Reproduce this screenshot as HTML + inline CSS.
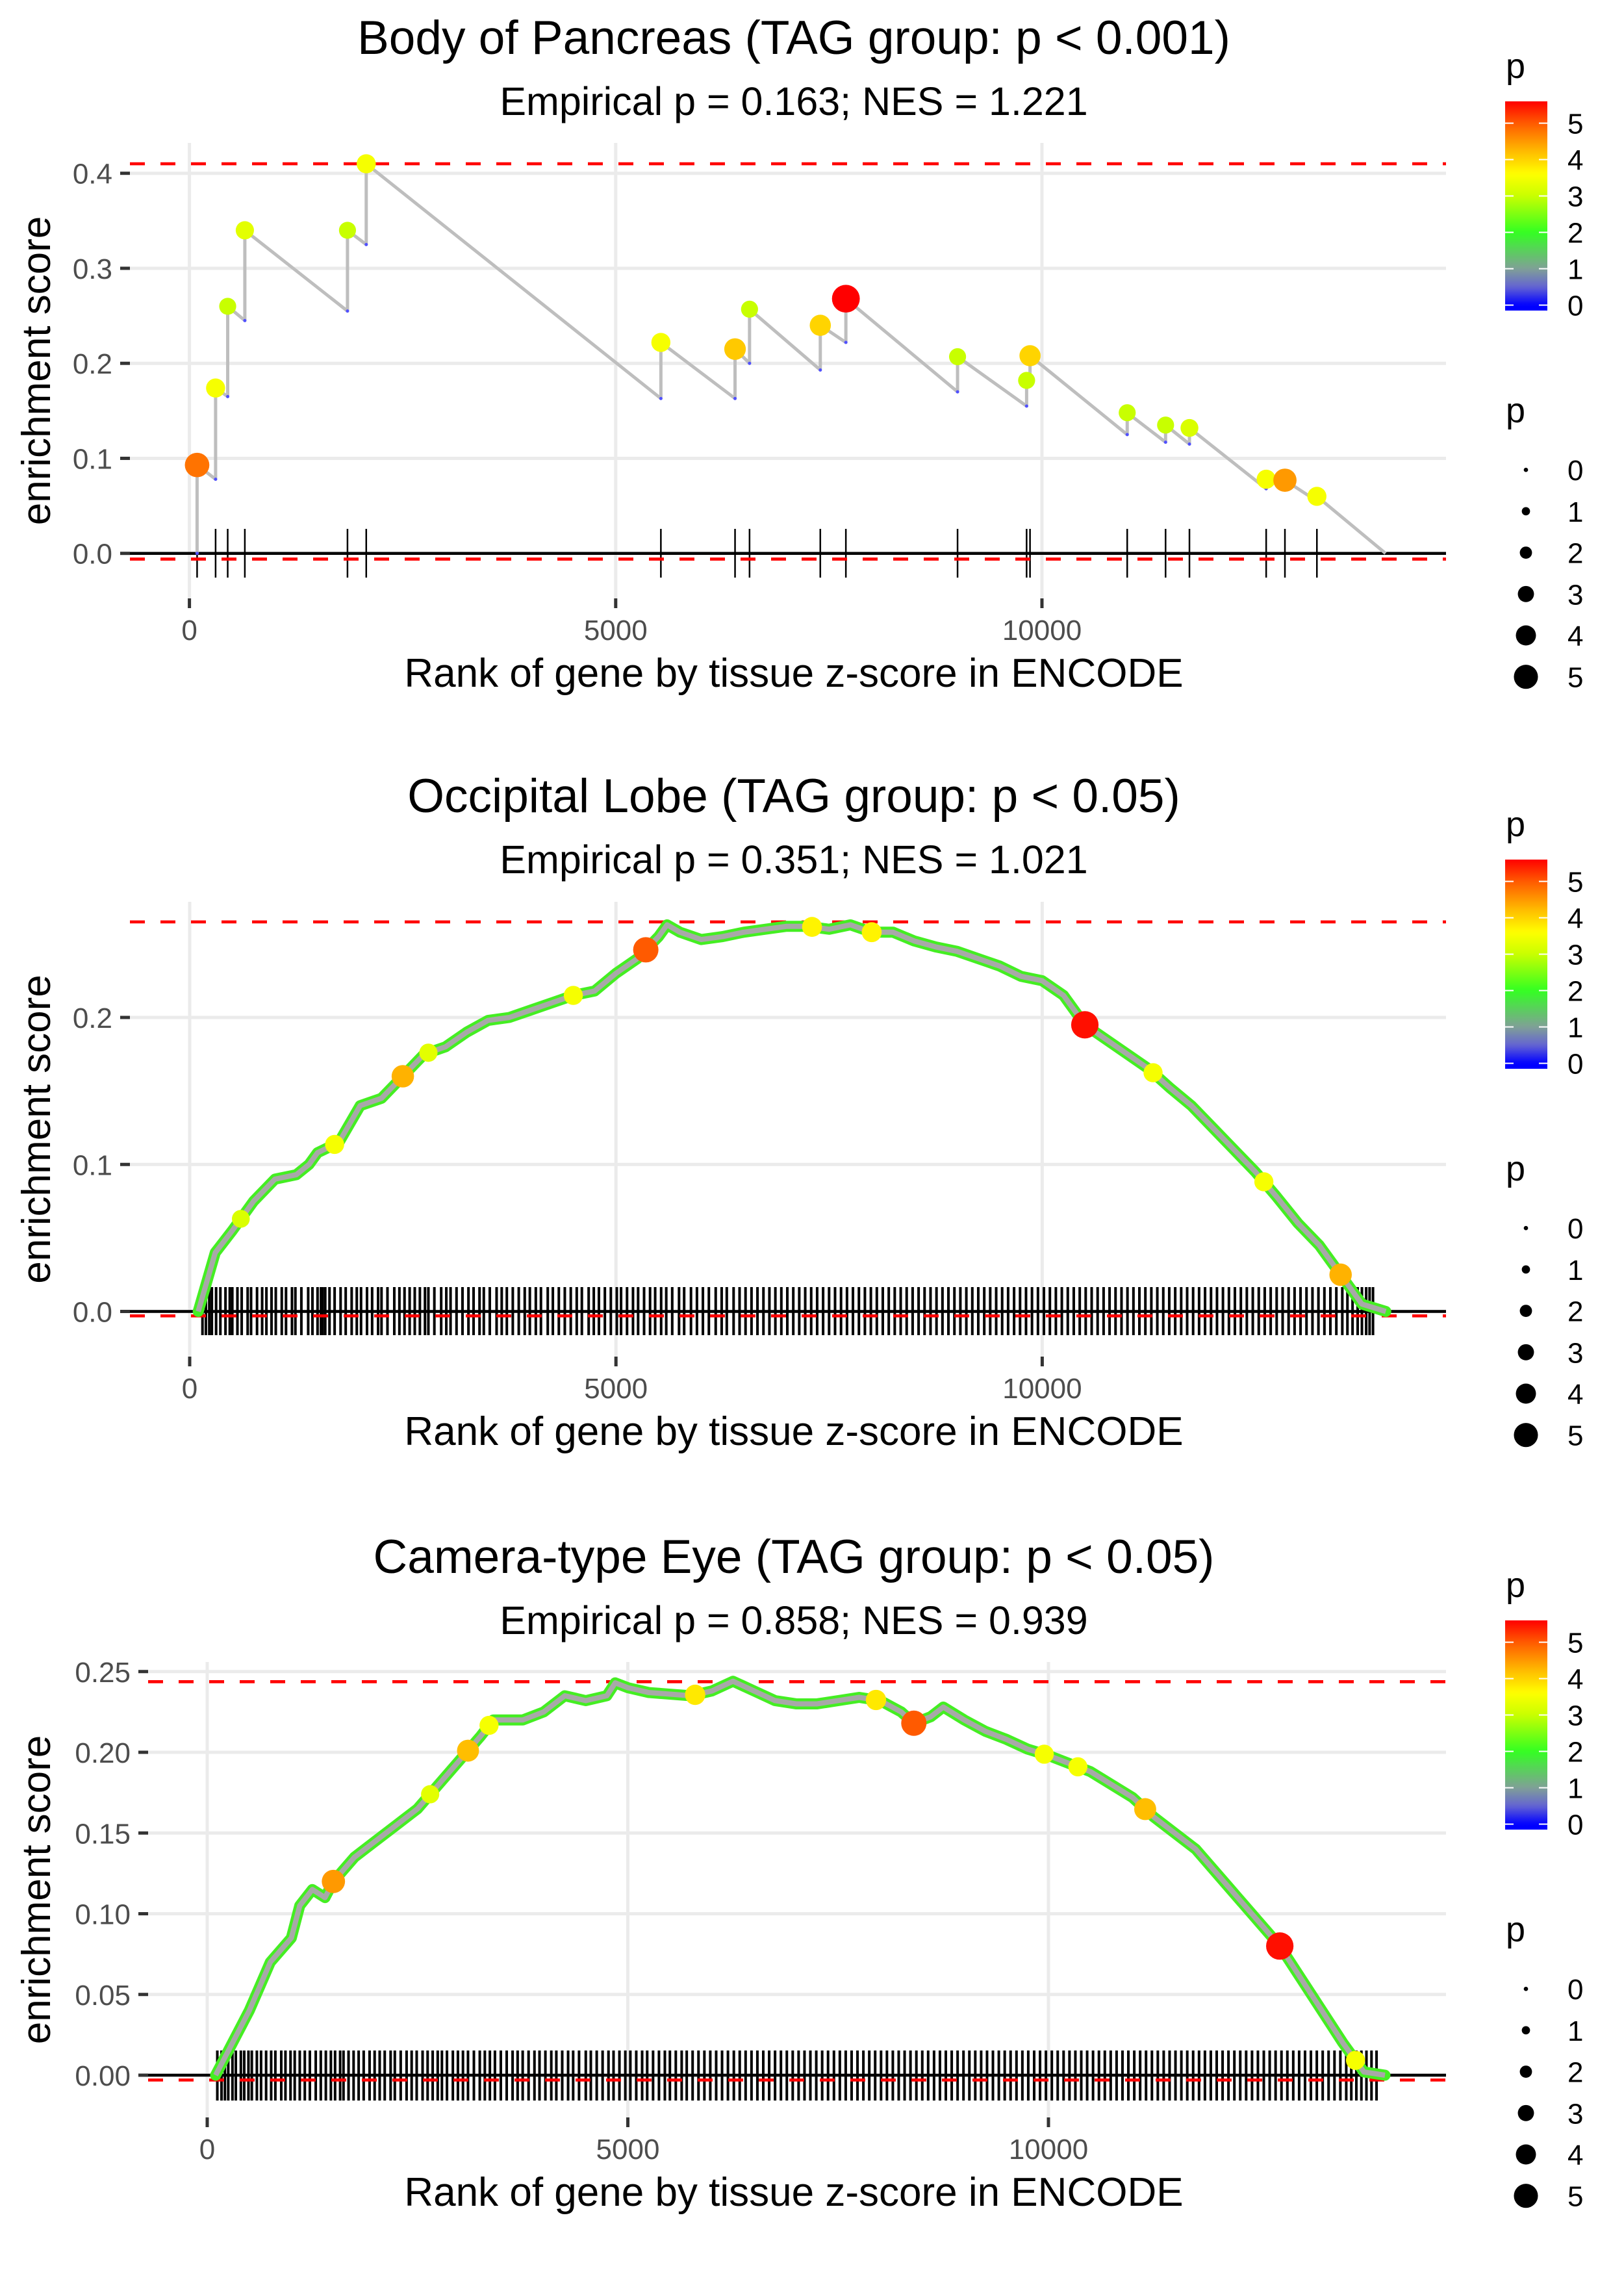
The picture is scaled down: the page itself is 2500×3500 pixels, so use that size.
<!DOCTYPE html>
<html><head><meta charset="utf-8"><style>
html,body{margin:0;padding:0;background:#fff}
svg{display:block}
text{font-family:"Liberation Sans",sans-serif}
</style></head><body>
<svg id="root" width="2500" height="3500" viewBox="0 0 2500 3500" xmlns="http://www.w3.org/2000/svg"></svg>
<script>
// ---------- Panel 1 data (Body of Pancreas) ----------
const p1HitRanks = [90,307,449,650,1854,2074,5530,6400,6570,7400,7700,9010,9820,9860,11000,11450,11730,12630,12850,13225];
const p1Trough   = [0,0.078,0.165,0.245,0.255,0.325,0.163,0.163,0.2,0.193,0.222,0.17,0.155,0.178,0.125,0.117,0.115,0.068,0.07,0.055];
const p1Peak     = [0.093,0.174,0.26,0.34,0.34,0.41,0.222,0.215,0.257,0.24,0.268,0.207,0.182,0.208,0.148,0.135,0.132,0.078,0.077,0.06];
const p1HitP     = [4.8,3.5,3.0,3.3,3.0,3.5,3.5,4.1,3.0,4.0,5.6,3.0,3.0,4.0,3.0,3.0,3.2,3.5,4.5,3.5];
const p1End = 14030;

// ---------- Panel 2 data (Occipital Lobe) ----------
const p2CurveRanks = [100,300,500,750,1000,1250,1400,1500,1750,2000,2250,2500,2750,3000,3250,3500,3750,4000,4250,4500,4750,5000,5250,5500,5600,5750,6000,6250,6500,6750,7000,7250,7500,7750,8000,8250,8500,8750,9000,9250,9500,9750,10000,10250,10500,10750,11000,11250,11500,11750,12000,12250,12500,12750,13000,13250,13500,13750,14030];
const p2CurveES = [0,0.04,0.055,0.075,0.09,0.093,0.1,0.108,0.115,0.14,0.145,0.16,0.175,0.18,0.19,0.198,0.2,0.205,0.21,0.215,0.218,0.23,0.24,0.255,0.263,0.258,0.253,0.255,0.258,0.26,0.262,0.262,0.26,0.263,0.258,0.258,0.252,0.248,0.245,0.24,0.235,0.228,0.225,0.215,0.195,0.185,0.175,0.165,0.152,0.14,0.125,0.11,0.095,0.078,0.06,0.045,0.025,0.005,0];
const p2DotRanks = [5350,10500,2500,13500,7300,8000,2800,4500,11300,12600,1700,600];
const p2DotP     = [5.0,5.5,4.3,4.3,3.7,3.7,3.3,3.5,3.5,3.5,3.5,3.2];
const p2HitRanks = [150,190,230,260,310,360,420,470,500,560,610,680,720,790,850,900,960,1010,1080,1130,1200,1240,1310,1390,1440,1500,1540,1560,1590,1640,1700,1770,1830,1900,1960,2010,2080,2140,2210,2250,2320,2400,2460,2520,2580,2640,2700,2760,2800,2870,2950,3010,3060,3130,3200,3270,3330,3400,3450,3520,3600,3660,3720,3790,3860,3930,3990,4060,4120,4200,4260,4330,4400,4470,4540,4600,4680,4740,4800,4870,4940,5010,5060,5130,5200,5260,5330,5400,5460,5530,5590,5660,5740,5800,5880,5950,6020,6090,6170,6240,6300,6380,6450,6520,6590,6660,6730,6800,6870,6940,7010,7080,7150,7220,7290,7360,7430,7500,7570,7640,7710,7780,7850,7920,7990,8060,8130,8200,8270,8340,8410,8480,8550,8620,8690,8760,8830,8900,8970,9040,9110,9180,9250,9320,9390,9460,9530,9600,9670,9740,9810,9880,9950,10020,10090,10160,10230,10300,10370,10440,10510,10580,10650,10720,10790,10860,10930,11000,11070,11140,11210,11280,11350,11420,11490,11560,11630,11700,11770,11840,11910,11980,12050,12120,12190,12260,12330,12400,12470,12540,12610,12680,12750,12820,12890,12960,13030,13100,13170,13240,13310,13380,13450,13520,13580,13640,13700,13750,13800,13840,13880];

// ---------- Panel 3 data (Camera-type Eye) ----------
const p3CurveRanks = [100,250,500,750,1000,1100,1250,1400,1500,1750,2000,2250,2500,2750,3000,3250,3400,3750,4000,4250,4500,4750,4850,5000,5250,5500,5750,6000,6250,6500,6750,7000,7250,7500,7750,8000,8250,8400,8600,8750,9000,9250,9500,9750,10000,10250,10500,10750,11000,11250,11500,11750,12000,12250,12500,12750,13000,13250,13500,13750,14000];
const p3CurveES = [0,0.015,0.04,0.07,0.085,0.105,0.115,0.11,0.12,0.135,0.145,0.155,0.165,0.18,0.195,0.21,0.22,0.22,0.225,0.235,0.232,0.235,0.243,0.24,0.237,0.236,0.235,0.238,0.244,0.238,0.232,0.23,0.23,0.232,0.234,0.232,0.225,0.218,0.222,0.228,0.22,0.213,0.208,0.202,0.198,0.193,0.188,0.18,0.172,0.16,0.15,0.14,0.125,0.11,0.095,0.08,0.06,0.04,0.02,0.002,0];
const p3DotRanks = [8400,12750,1500,3100,5800,11150,3350,7950,9950,10350,13650,2650];
const p3DotP     = [5.0,5.5,4.5,4.2,3.8,4.2,3.5,3.8,3.5,3.5,3.5,3.3];
const p3HitRanks = [120,170,210,250,300,340,400,440,490,530,590,640,700,760,810,880,930,990,1040,1100,1160,1220,1290,1350,1410,1470,1520,1580,1620,1680,1740,1800,1860,1930,1990,2050,2110,2180,2230,2300,2370,2430,2490,2560,2620,2680,2740,2790,2850,2920,2980,3040,3100,3170,3240,3300,3360,3420,3490,3560,3630,3690,3750,3820,3890,3950,4020,4090,4150,4220,4290,4350,4420,4500,4560,4630,4700,4770,4830,4900,4970,5030,5100,5170,5230,5300,5370,5440,5500,5570,5640,5700,5770,5840,5910,5980,6050,6120,6190,6260,6330,6400,6470,6540,6610,6680,6750,6820,6890,6960,7030,7100,7170,7240,7310,7380,7450,7520,7590,7660,7730,7800,7870,7940,8010,8080,8150,8220,8290,8360,8430,8500,8570,8640,8710,8780,8850,8920,8990,9060,9130,9200,9270,9340,9410,9480,9550,9620,9690,9760,9830,9900,9970,10040,10110,10180,10250,10320,10390,10460,10530,10600,10670,10740,10810,10880,10950,11020,11090,11160,11230,11300,11370,11440,11510,11580,11650,11720,11790,11860,11930,12000,12070,12140,12210,12280,12350,12420,12490,12560,12630,12700,12770,12840,12910,12980,13050,13120,13190,13260,13330,13400,13470,13540,13600,13660,13720,13780,13840,13900];

const yTicks1 = [0,0.1,0.2,0.3,0.4], yTickLabels1 = ["0.0","0.1","0.2","0.3","0.4"];
const yTicks2 = [0,0.1,0.2], yTickLabels2 = ["0.0","0.1","0.2"];
const yTicks3 = [0,0.05,0.1,0.15,0.2,0.25], yTickLabels3 = ["0.00","0.05","0.10","0.15","0.20","0.25"];
const xTicks = [0,5000,10000], xTickLabels = ["0","5000","10000"];
const legendVals = [0,1,2,3,4,5];

const NS="http://www.w3.org/2000/svg";
const root=document.getElementById('root');
function mk(tag,attrs,parent,txt){const e=document.createElementNS(NS,tag);for(const k in attrs)e.setAttribute(k,attrs[k]);if(txt!==undefined)e.textContent=txt;(parent||root).appendChild(e);return e;}
const stops=[[0,[0,0,255]],[0.5,[100,100,210]],[1,[128,160,150]],[2,[51,255,34]],[3,[200,255,0]],[3.6,[255,255,0]],[4.2,[255,190,0]],[5,[255,90,0]],[5.6,[255,0,0]]];
function pcol(p){if(p<=0)return 'rgb(0,0,255)';for(let i=1;i<stops.length;i++){if(p<=stops[i][0]){const a=stops[i-1],b=stops[i];const t=(p-a[0])/(b[0]-a[0]);const c=a[1].map((v,j)=>Math.round(v+(b[1][j]-v)*t));return `rgb(${c})`;}}return 'rgb(255,0,0)';}
function prad(p){return 3.5+3.2*p;}
function interp(xs,ys,x){for(let i=1;i<xs.length;i++){if(x<=xs[i]){const t=(x-xs[i-1])/(xs[i]-xs[i-1]);return ys[i-1]+(ys[i]-ys[i-1])*t;}}return ys[ys.length-1];}

const RIGHT=2226, CX=1222;
function panel(cfg){
  const g=mk('g',{});
  
  
  const s=cfg.shift;
  const X=r=>cfg.x0+r*cfg.xs, Y=v=>cfg.y0-v*cfg.ys;
  cfg.yTicks.forEach((v,i)=>{
    const l=mk('line',{x1:cfg.left,x2:RIGHT,y1:Y(v),y2:Y(v),stroke:'#ebebeb','stroke-width':5},g);
     
    mk('line',{x1:cfg.left-15,x2:cfg.left,y1:Y(v),y2:Y(v),stroke:'#333','stroke-width':5},g);
    const t=mk('text',{x:cfg.left-27,y:Y(v)+16,'text-anchor':'end','font-size':44,fill:'#4d4d4d'},g,cfg.yLabels[i]);
     
  });
  xTicks.forEach((v,i)=>{
    const l=mk('line',{x1:X(v),x2:X(v),y1:cfg.top,y2:cfg.bottom,stroke:'#ebebeb','stroke-width':5},g);
     
    mk('line',{x1:X(v),x2:X(v),y1:cfg.bottom,y2:cfg.bottom+15,stroke:'#333','stroke-width':5},g);
    const t=mk('text',{x:X(v),y:985+s,'text-anchor':'middle','font-size':44,fill:'#4d4d4d'},g,xTickLabels[i]);
     
  });
  const rug=mk('g',{stroke:'#000','stroke-width':cfg.rugW},g);
   
  cfg.hits.forEach(r=>{const l=mk('line',{x1:X(r),x2:X(r),y1:cfg.rugTop,y2:cfg.rugBot},rug);
     });
  const z=mk('line',{x1:cfg.left,x2:RIGHT,y1:Y(0),y2:Y(0),stroke:'#000','stroke-width':4.5},g);
   
  [cfg.maxES,cfg.minES].forEach(v=>{const l=mk('line',{x1:cfg.left,x2:RIGHT,y1:Y(v),y2:Y(v),stroke:'#ff0000','stroke-width':4.7,'stroke-dasharray':'23,24'},g);
     });
  cfg.draw(g,X,Y);
  const tt=mk('text',{x:CX,y:83+s,'text-anchor':'middle','font-size':73,fill:'#000'},g,cfg.title);
   
  const st=mk('text',{x:CX,y:177+s,'text-anchor':'middle','font-size':61,fill:'#000'},g,cfg.subtitle);
   
  const xl=mk('text',{x:CX,y:1057+s,'text-anchor':'middle','font-size':62,fill:'#000'},g,'Rank of gene by tissue z-score in ENCODE');
   
  const cy=(cfg.top+cfg.bottom)/2;
  const yl=mk('text',{x:77,y:cy,'text-anchor':'middle','font-size':62,fill:'#000',transform:`rotate(-90 77 ${cy})`},g,'enrichment score');
   
  // color legend
  const lg=mk('g',{},g);  
  mk('text',{x:2318,y:120+s,'font-size':54,fill:'#000'},lg,'p');
  const gid='grad'+cfg.name;
  const defs=mk('defs',{},lg); const gr=mk('linearGradient',{id:gid,x1:0,y1:1,x2:0,y2:0},defs);
  for(let p=-0.15;p<=5.6;p+=0.1){mk('stop',{offset:((p+0.15)/5.75),'stop-color':pcol(p)},gr);}
  const yc=v=>469.6+s-v*56;
  mk('rect',{x:2317,y:yc(5.6),width:65,height:5.75*56,fill:`url(#${gid})`},lg);
  legendVals.forEach(v=>{
    mk('line',{x1:2317,x2:2330,y1:yc(v),y2:yc(v),stroke:'#fff','stroke-width':2},lg);
    mk('line',{x1:2369,x2:2382,y1:yc(v),y2:yc(v),stroke:'#fff','stroke-width':2},lg);
    mk('text',{x:2413,y:yc(v)+16,'font-size':44,fill:'#000'},lg,String(v));
  });
  const sg=mk('g',{},g);  
  mk('text',{x:2318,y:650+s,'font-size':54,fill:'#000'},sg,'p');
  legendVals.forEach(v=>{
    const yy=1041.7+s-(5-v)*63.7;
    mk('circle',{cx:2349,cy:yy,r:prad(v)*0.95,fill:'#000'},sg);
    mk('text',{x:2413,y:yy+16,'font-size':44,fill:'#000'},sg,String(v));
  });
}

panel({name:'panel-body-of-pancreas',title:'Body of Pancreas (TAG group: p < 0.001)',subtitle:'Empirical p = 0.163; NES = 1.221',
  shift:0,x0:291.6,xs:0.13124,y0:851.7,ys:1462.5,left:200,top:220,bottom:921,rugTop:814,rugBot:889,rugW:2.5,
  yTicks:yTicks1,yLabels:yTickLabels1,maxES:0.41,minES:-0.006,hits:p1HitRanks,
  draw:(g,X,Y)=>{
    let d=`M${X(p1HitRanks[0])},${Y(p1Trough[0])}`;
    p1HitRanks.forEach((r,i)=>{d+=` L${X(r)},${Y(p1Trough[i])} L${X(r)},${Y(p1Peak[i])}`;});
    d+=` L${X(p1End)},${Y(0)}`;
    const pth=mk('path',{d:d,fill:'none',stroke:'#bebebe','stroke-width':5,'stroke-linejoin':'round'},g);
     
    p1HitRanks.forEach((r,i)=>{mk('circle',{cx:X(r),cy:Y(p1Trough[i]),r:2.5,fill:'#5050ff'},g);});
    p1HitRanks.forEach((r,i)=>{const c=mk('circle',{cx:X(r),cy:Y(p1Peak[i]),r:prad(p1HitP[i]),fill:pcol(p1HitP[i])},g);
       });
  }});

function denseDraw(ranks,es,dr,dp){return (g,X,Y)=>{
  const pts=ranks.map((r,i)=>`${X(r)},${Y(es[i])}`).join(' ');
  const a=mk('polyline',{points:pts,fill:'none',stroke:'#44ee22','stroke-width':17,'stroke-linejoin':'round','stroke-linecap':'round'},g);
   
  const b=mk('polyline',{points:pts,fill:'none',stroke:'#a8a8a8','stroke-width':8,'stroke-linejoin':'round'},g);
   
  dr.forEach((r,i)=>{const c=mk('circle',{cx:X(r),cy:Y(interp(ranks,es,r)),r:prad(dp[i]),fill:pcol(dp[i])},g);
     });
};}

panel({name:'panel-occipital-lobe',title:'Occipital Lobe (TAG group: p < 0.05)',subtitle:'Empirical p = 0.351; NES = 1.021',
  shift:1167,x0:292,xs:0.13124,y0:2018.5,ys:2262.5,left:200,top:1388,bottom:2088,rugTop:1981,rugBot:2055,rugW:4,
  yTicks:yTicks2,yLabels:yTickLabels2,maxES:0.265,minES:-0.003,hits:p2HitRanks,
  draw:denseDraw(p2CurveRanks,p2CurveES,p2DotRanks,p2DotP)});

panel({name:'panel-camera-type-eye',title:'Camera-type Eye (TAG group: p < 0.05)',subtitle:'Empirical p = 0.858; NES = 0.939',
  shift:2338,x0:319,xs:0.1295,y0:3194,ys:2485,left:228,top:2558,bottom:3259,rugTop:3156,rugBot:3233,rugW:4,
  yTicks:yTicks3,yLabels:yTickLabels3,maxES:0.2437,minES:-0.003,hits:p3HitRanks,
  draw:denseDraw(p3CurveRanks,p3CurveES,p3DotRanks,p3DotP)});
</script>
</body></html>
